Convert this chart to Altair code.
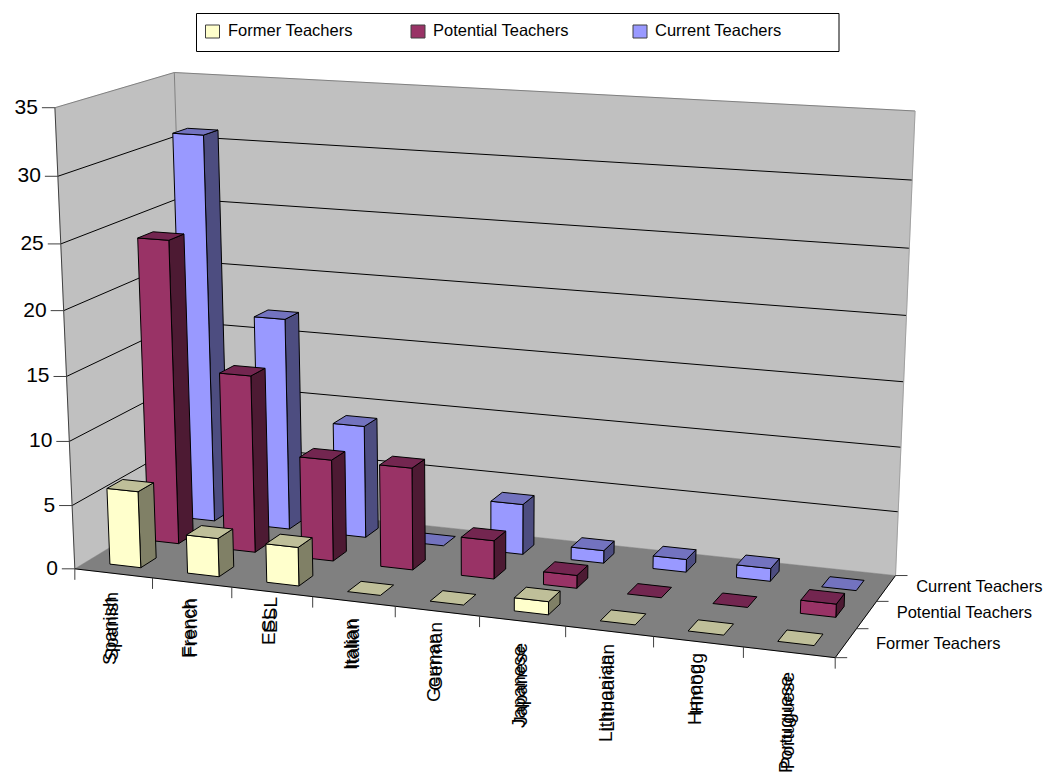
import numpy as np
import pandas as pd
import altair as alt

CATEGORIES = ["Spanish", "French", "ESL", "Italian", "German", "Japanese", "Lithuanian", "Hmong", "Portuguese"]
SERIES = ["Former Teachers", "Potential Teachers", "Current Teachers"]
FORMER = [6, 3, 3, 0, 0, 1, 0, 0, 0]
POTENTIAL = [24, 14, 8, 8, 3, 1, 0, 0, 1]
CURRENT = [31, 17, 9, 0, 4, 1, 1, 1, 0]
VALUE_TICKS = [0, 5, 10, 15, 20, 25, 30, 35]
VALUE_MAX = 35

# face colours per series: front, top, side
FACES = [("#FFFFCC", "#BFBF99", "#808066"),
         ("#993366", "#732650", "#4D1A33"),
         ("#9999FF", "#7373BF", "#4D4D80")]

# pixel anchors of the plot box: (category, depth, height) in unit space -> screen
BOX = [((0, 0, 0), (75, 568.3)), ((1, 0, 0), (835, 658.3)), ((1, 1, 0), (896.3, 574)),
       ((0, 1, 0), (187.4, 501)), ((0, 0, 1), (55, 107.3)), ((0, 1, 1), (174.3, 72.7)),
       ((1, 1, 1), (915.3, 111)),
       ((2 / 9, 0, 0), (232, 586.9)), ((4 / 9, 0, 0), (395, 606.2)),
       ((6 / 9, 0, 0), (566, 626.4)), ((8 / 9, 0, 0), (743, 647.4)),
       ((1, 1, 3 / 7), (903, 382.3))]

# perspective camera fitted to the box anchors
rows, rhs = [], []
for (u, s, z), (px, py) in BOX:
    rows.append([u, s, z, 1, 0, 0, 0, 0, -px * u, -px * s, -px * z]); rhs.append(px)
    rows.append([0, 0, 0, 0, u, s, z, 1, -py * u, -py * s, -py * z]); rhs.append(py)
cam = np.append(np.linalg.lstsq(np.array(rows, float), np.array(rhs, float), rcond=None)[0], 1).reshape(3, 4)


def proj(u, s, z):
    w = cam @ np.array([u, s, z, 1.0])
    return float(w[0] / w[2]), float(w[1] / w[2])


polys, lines = [], []


def add_poly(pts, fill, stroke):
    pid = len(polys)
    polys.append(pd.DataFrame({"pid": pid, "v": range(len(pts)), "px": [p[0] for p in pts],
                               "py": [p[1] for p in pts], "fill": fill, "stroke": stroke}))


def add_line(a, b, color="#000000"):
    pid = len(lines)
    lines.append({"pid": pid, "v": 0, "px": a[0], "py": a[1], "color": color})
    lines.append({"pid": pid, "v": 1, "px": b[0], "py": b[1], "color": color})


# walls and floor
add_poly([proj(0, 0, 0), proj(0, 1, 0), proj(0, 1, 1), proj(0, 0, 1)], "#C0C0C0", "#C0C0C0")
add_poly([proj(0, 1, 0), proj(1, 1, 0), proj(1, 1, 1), proj(0, 1, 1)], "#C0C0C0", "#C0C0C0")
add_poly([proj(0, 0, 0), proj(1, 0, 0), proj(1, 1, 0), proj(0, 1, 0)], "#808080", "#808080")

for t in VALUE_TICKS:
    z = t / VALUE_MAX
    col = "#808080" if t == VALUE_MAX else "#000000"
    if t:
        add_line(proj(0, 0, z), proj(0, 1, z), col)
        add_line(proj(0, 1, z), proj(1, 1, z), col)
add_line(proj(0, 1, 0), proj(0, 1, 1), "#808080")
add_line(proj(1, 1, 0), proj(1, 1, 1), "#A0A0A0")
add_line(proj(0, 0, 0), proj(0, 0, 1), "#404040")
add_line(proj(0, 0, 0), proj(1, 0, 0))
add_line(proj(1, 0, 0), proj(1, 1, 0))

# axis ticks
for t in VALUE_TICKS:
    p = proj(0, 0, t / VALUE_MAX)
    add_line((p[0] - 13, p[1]), p, "#404040")
for i in range(len(CATEGORIES) + 1):
    p = proj(i / len(CATEGORIES), 0, 0)
    add_line(p, (p[0], p[1] + 11), "#404040")
for j in range(len(SERIES) + 1):
    p = proj(1, j / len(SERIES), 0)
    add_line(p, (p[0] + 12, p[1]), "#404040")

# bars, painted back to front
nc, ns = len(CATEGORIES), len(SERIES)
BAR_LO, BAR_HI = 0.3, 0.7
for j, vals in reversed(list(enumerate([FORMER, POTENTIAL, CURRENT]))):
    front, top, side = FACES[j]
    for i in reversed(range(nc)):
        u0, u1 = (i + BAR_LO) / nc, (i + BAR_HI) / nc
        s0, s1 = (j + BAR_LO) / ns, (j + BAR_HI) / ns
        z = vals[i] / VALUE_MAX
        if vals[i]:
            add_poly([proj(u1, s0, 0), proj(u1, s1, 0), proj(u1, s1, z), proj(u1, s0, z)], side, "#000000")
            add_poly([proj(u0, s0, 0), proj(u1, s0, 0), proj(u1, s0, z), proj(u0, s0, z)], front, "#000000")
        add_poly([proj(u0, s0, z), proj(u1, s0, z), proj(u1, s1, z), proj(u0, s1, z)], top, "#000000")

# legend frame and swatches
LEGEND_SWATCH_X = [205.5, 411, 633]
LEGEND_TEXT_X = [228, 433, 655]
add_poly([(196.5, 13.5), (839, 13.5), (839, 51.5), (196.5, 51.5)], "#FFFFFF", "#000000")
for j in range(ns):
    x = LEGEND_SWATCH_X[j]
    add_poly([(x, 25), (x + 14, 25), (x + 14, 38), (x, 38)], FACES[j][0], "#404040")

FONT = "Liberation Sans"
xs = alt.X("px:Q", scale=alt.Scale(domain=[0, 1046], nice=False), axis=None)
ys = alt.Y("py:Q", scale=alt.Scale(domain=[783, 0], nice=False), axis=None)

poly_df = pd.concat(polys, ignore_index=True)
bg = poly_df[poly_df.pid < 3]
fg = poly_df[poly_df.pid >= 3]


def poly_layer(df, w):
    return alt.Chart(df).mark_line(interpolate="linear-closed", strokeWidth=w).encode(
        x=xs, y=ys, detail="pid:N", order="v:Q",
        fill=alt.Fill("fill:N", scale=None), stroke=alt.Stroke("stroke:N", scale=None))


line_layer = alt.Chart(pd.DataFrame(lines)).mark_line(strokeWidth=1).encode(
    x=xs, y=ys, detail="pid:N", order="v:Q", stroke=alt.Stroke("color:N", scale=None))


def text_layer(df, **kw):
    return alt.Chart(df).mark_text(font=FONT, color="#000000", baseline="middle", opacity=0.99, **kw).encode(
        x=xs, y=ys, text="label:N")


# value axis labels
value_labels = pd.DataFrame([{"label": str(t), "px": proj(0, 0, t / VALUE_MAX)[0] - 17,
                              "py": proj(0, 0, t / VALUE_MAX)[1]} for t in VALUE_TICKS])
# depth axis labels
DEPTH_LABEL_Y = [644, 613, 587]
depth_labels = pd.DataFrame([{"label": SERIES[j], "px": proj(1, (j + .5) / ns, 0)[0] + 30,
                              "py": DEPTH_LABEL_Y[j]} for j in range(ns)])
legend_labels = pd.DataFrame({"label": SERIES, "px": LEGEND_TEXT_X, "py": [31] * ns})

# vertical category labels are set twice: one run from the top end, one from the bottom end
LABEL_TOP = [592, 598, 597, 618, 622, 643, 644, 653, 672]
LABEL_BOTTOM = [665, 658, 645, 670, 702, 728, 742, 725, 773]
cat_x = [proj((i + .5) / nc, 0, 0)[0] - 2 for i in range(nc)]
cat_top = pd.DataFrame({"label": CATEGORIES, "px": [x + 1 for x in cat_x], "py": LABEL_TOP})
cat_bottom = pd.DataFrame({"label": CATEGORIES, "px": [x - 1 for x in cat_x], "py": LABEL_BOTTOM})

chart = alt.layer(
    poly_layer(bg, 0.5),
    line_layer,
    poly_layer(fg, 1),
    text_layer(value_labels, align="right", fontSize=21),
    text_layer(depth_labels, align="left", fontSize=16.5),
    text_layer(legend_labels, align="left", fontSize=16.5),
    text_layer(cat_top, align="right", angle=270, fontSize=19),
    text_layer(cat_bottom, align="left", angle=270, fontSize=19),
).properties(width=1046, height=783, padding=0, autosize=alt.AutoSizeParams(type="none"),
             background="#FFFFFF").configure_view(stroke=None)

chart.save("out.html", embed_options={"renderer": "svg", "actions": False})
